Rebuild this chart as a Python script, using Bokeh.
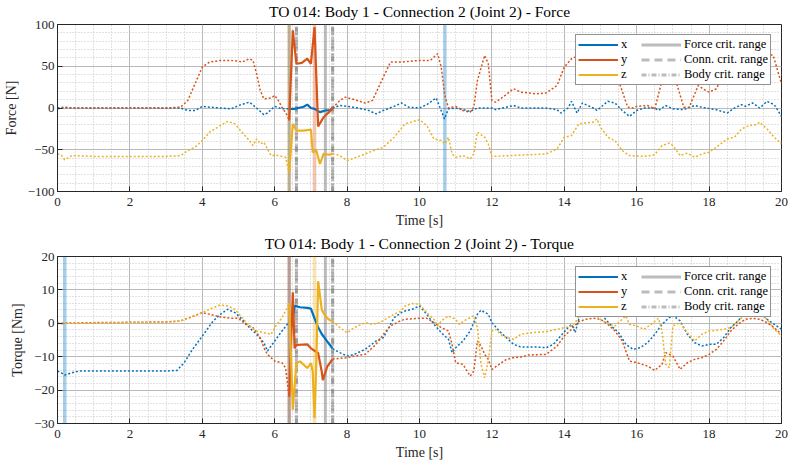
import numpy as np
from bokeh.plotting import figure
from bokeh.layouts import column
from bokeh.models import FixedTicker, Range1d, Legend, LegendItem
from bokeh.embed import file_html
from bokeh.resources import INLINE

NAN = float("nan")

# ---------------- data ----------------
X_TICKS = [0, 2, 4, 6, 8, 10, 12, 14, 16, 18, 20]
X_MINOR = [0.5 * i for i in range(41)]
F_TICKS = [-100, -50, 0, 50, 100]
F_MINOR = list(range(-100, 101, 10))
T_TICKS = [-30, -20, -10, 0, 10, 20]
T_MINOR = list(range(-30, 21, 2))

# Force, whole record (dotted), gap = critical window
FX_DOT = [(0, 0), (0.2, 1), (0.4, 0), (1, 0), (2, 0), (3, 0), (3.4, 0), (3.6, -3), (3.8, -3), (4.0, 2), (4.2, 1),
          (4.5, 0), (4.8, -1), (5.0, 3), (5.3, 7), (5.5, 0), (5.7, -8), (5.8, -6), (6.0, 2), (6.2, -1), (6.4, -1),
          (NAN, NAN), (7.6, 0), (7.8, 3), (8.0, 2), (8.3, 0), (8.6, -3), (8.8, -7), (9.0, -3), (9.3, 2), (9.5, 6),
          (9.7, 1), (10.0, 0), (10.2, 4), (10.46, 12), (10.69, -13), (10.8, -1), (11.0, 0), (11.4, -4), (11.6, 0),
          (12.0, 0), (12.1, -2), (12.3, 0), (12.6, 3), (12.8, 0), (13.5, 0), (13.8, -2), (13.9, -6), (14.1, 0),
          (14.2, 8), (14.35, -6), (14.5, 6), (14.8, 0), (14.9, -3), (15.2, 8), (15.4, 6), (15.6, -3), (15.8, -10),
          (16.0, -3), (16.2, 0), (16.5, 0), (16.6, -3), (16.8, 3), (17.0, -1), (17.3, -2), (17.6, 3), (17.9, 0),
          (18.2, -2), (18.5, -6), (18.7, 0), (18.9, 4), (19.0, 2), (19.2, 6), (19.4, 0), (19.6, 8), (19.8, 4),
          (20.0, -10)]
FY_DOT = [(0, -1), (0.2, 0), (1, 0), (2, 0), (3, 0), (3.4, 1), (3.6, 9), (3.8, 29), (4.0, 49), (4.2, 55), (4.5, 57),
          (4.8, 57), (5.0, 56), (5.1, 55), (5.3, 59), (5.4, 57), (5.5, 41), (5.6, 21), (5.7, 11), (5.9, 12),
          (6.0, 15), (6.1, 9), (6.2, 1), (6.35, -9), (6.4, -15), (NAN, NAN), (7.6, 0), (7.8, 9), (7.95, 13),
          (8.2, 10), (8.5, 6), (8.7, 9), (9.0, 37), (9.2, 55), (9.5, 55), (10.0, 57), (10.3, 57), (10.5, 65),
          (10.6, 49), (10.7, 15), (10.8, 0), (11.0, 2), (11.2, -3), (11.4, -5), (11.5, 1), (11.6, 33), (11.8, 63),
          (11.9, 53), (12.0, 9), (12.1, 7), (12.3, 13), (12.6, 23), (12.8, 19), (13.2, 17), (13.5, 18), (13.8, 27),
          (14.0, 49), (14.2, 59), (14.5, 65), (14.8, 68), (15.1, 64), (15.4, 55), (15.5, 33), (15.75, 1), (15.9, 0),
          (16.0, 2), (16.3, 3), (16.5, -1), (16.7, 33), (16.85, 52), (17.1, 30), (17.3, 1), (17.45, 1), (17.7, 27),
          (17.9, 21), (18.0, 19), (18.2, 23), (18.5, 50), (18.8, 62), (19.1, 58), (19.4, 60), (19.6, 65),
          (19.77, 63), (20.0, 29)]
FZ_DOT = [(0, -55), (0.1, -56), (0.2, -62), (0.4, -57), (1, -58), (2, -58), (3, -58), (3.4, -57), (3.6, -51),
          (3.8, -47), (4.0, -39), (4.2, -29), (4.5, -21), (4.7, -16), (4.9, -19), (5.1, -29), (5.3, -39), (5.4, -45),
          (5.5, -37), (5.6, -43), (5.7, -41), (5.9, -57), (6.1, -57), (6.3, -59), (6.4, -77), (NAN, NAN),
          (7.6, -55), (7.8, -57), (8.0, -63), (8.2, -60), (8.5, -55), (8.8, -50), (9.0, -47), (9.3, -35),
          (9.6, -19), (10.0, -14), (10.2, -21), (10.4, -37), (10.6, -39), (10.7, -43), (10.8, -35), (10.9, -55),
          (11.0, -59), (11.2, -57), (11.4, -61), (11.5, -55), (11.6, -29), (11.8, -35), (11.9, -43), (12.0, -58),
          (12.5, -57), (13.0, -56), (13.5, -55), (13.8, -49), (14.0, -35), (14.2, -33), (14.4, -19), (14.6, -18),
          (14.8, -17), (14.9, -13), (15.0, -23), (15.2, -35), (15.4, -39), (15.6, -51), (15.8, -57), (16.2, -58),
          (16.5, -56), (16.7, -45), (16.9, -42), (17.0, -45), (17.2, -57), (17.4, -54), (17.6, -59), (17.8, -55),
          (18.0, -53), (18.2, -47), (18.5, -37), (18.7, -35), (18.9, -25), (19.1, -21), (19.3, -20), (19.4, -17),
          (19.6, -25), (19.8, -35), (20.0, -43)]
# Force, critical window (solid)
FX_SOL = [(6.4, -1), (6.55, -1), (6.65, 0), (6.8, 1.5), (6.9, 4), (7.0, 0), (7.1, -1), (7.25, -5), (7.4, -3),
          (7.55, -2.5), (7.6, 0)]
FY_SOL = [(6.4, -15), (6.5, 93), (6.6, 53), (6.75, 54), (6.9, 59), (7.0, 53), (7.1, 97), (7.2, -22), (7.35, -11),
          (7.5, -5), (7.6, 0)]
FZ_SOL = [(6.4, -77), (6.5, -19), (6.6, -27), (6.8, -27), (7.0, -26), (7.05, -53), (7.15, -51), (7.25, -67),
          (7.35, -55), (7.5, -56), (7.6, -55)]

# Torque, whole record (dotted)
TX_DOT = [(0, -14.3), (0.1, -14.8), (0.2, -15.5), (0.4, -14.8), (0.6, -14.3), (1, -14.3), (2, -14.3), (3, -14.3),
          (3.3, -14.1), (3.5, -11.8), (3.7, -8.3), (3.9, -5.3), (4.1, -2.3), (4.3, 0.7), (4.5, 2.7), (4.7, 4.2),
          (4.9, 3.2), (5.1, 1.2), (5.3, -1.3), (5.5, -3.3), (5.7, -5.8), (5.8, -8.3), (6.0, -5.3), (6.2, -2.3),
          (6.35, -0.3), (6.4, 0.2), (NAN, NAN), (7.6, -7.6), (7.8, -8.8), (8.0, -9.8), (8.2, -9.3), (8.5, -7.8),
          (8.8, -5.3), (9.0, -4.3), (9.1, -2.3), (9.3, 1.7), (9.5, 3.2), (9.6, 3.7), (9.8, 4.2), (10.0, 5.2),
          (10.2, 2.7), (10.4, -0.3), (10.6, -2.8), (10.8, -4.8), (10.9, -8.8), (11.0, -7.3), (11.2, -5.3),
          (11.4, -2.3), (11.6, 2.7), (11.7, 3.9), (11.9, 2.7), (12.0, 0.2), (12.2, -2.3), (12.4, -4.3), (12.6, -6.3),
          (12.8, -7.1), (13.2, -7.1), (13.5, -7.3), (13.7, -6.3), (13.9, -3.8), (14.1, -1.3), (14.2, -0.3),
          (14.3, -2.8), (14.4, 1.2), (14.5, 3.2), (14.7, 4.2), (14.9, 4.2), (15.1, 1.7), (15.3, -0.8), (15.5, -2.8),
          (15.7, -6.3), (15.9, -7.8), (16.1, -7.3), (16.3, -5.8), (16.5, -3.3), (16.7, -0.3), (16.9, 1.7),
          (17.0, 2.4), (17.2, 0.7), (17.4, -3.3), (17.6, -5.8), (17.8, -6.8), (18.0, -6.3), (18.2, -6.3),
          (18.4, -4.3), (18.6, -1.3), (18.8, 0.7), (19.0, 3.2), (19.2, 2.7), (19.4, 3.7), (19.6, 1.2), (19.8, -0.3),
          (20.0, -1.8)]
TY_DOT = [(0, 0), (1, 0.2), (2, 0.3), (3, 0.4), (3.4, 0.7), (3.7, 1.9), (4.0, 3.2), (4.2, 2.7), (4.5, 1.9),
          (4.8, 1.5), (5.0, 1.5), (5.2, -0.3), (5.4, -1.3), (5.6, -4.3), (5.7, -7.3), (5.8, -9.3), (6.0, -11.3),
          (6.2, -11.8), (6.3, -13.3), (6.4, -22), (NAN, NAN), (7.6, -10.7), (7.8, -10.5), (8.0, -10.3),
          (8.2, -9.8), (8.5, -9.3), (8.8, -6.3), (9.0, -3.3), (9.2, -0.8), (9.5, 0.9), (9.6, 1.2), (10.0, 1.5),
          (10.2, 1.5), (10.4, 0.2), (10.6, -1.3), (10.8, -2.3), (10.9, -6.3), (11.0, -11.8), (11.2, -12.3),
          (11.4, -15.8), (11.5, -14.3), (11.6, -5.3), (11.7, -6.8), (11.8, -9.3), (11.9, -10.8), (12.0, -13.8),
          (12.2, -12.3), (12.4, -10.8), (12.6, -10.3), (12.8, -10.1), (13.0, -9.5), (13.5, -9.3), (13.8, -6.8),
          (14.0, -3.8), (14.2, -1.8), (14.4, 0.5), (14.6, 1.2), (14.8, 1.5), (15.0, 1.2), (15.2, -0.3),
          (15.4, -2.3), (15.6, -5.3), (15.8, -11.3), (16.0, -11.8), (16.3, -12.8), (16.5, -14.1), (16.7, -12.3),
          (16.8, -8.8), (17.0, -9.8), (17.2, -13.8), (17.4, -11.8), (17.6, -10.8), (17.8, -10.3), (18.0, -9.3),
          (18.2, -7.8), (18.4, -5.3), (18.6, -2.3), (18.8, -0.3), (19.0, 1.2), (19.2, 1.5), (19.4, 1.2),
          (19.6, 0.2), (19.8, -1.3), (20.0, -3.3)]
TZ_DOT = [(0, 0), (0.1, -0.3), (0.2, 0), (1, 0), (2, 0.2), (3, 0.3), (3.4, 0.7), (3.7, 1.9), (4.0, 3.2),
          (4.2, 4.2), (4.5, 5.5), (4.7, 5.2), (4.9, 4.2), (5.1, 1.7), (5.3, -0.8), (5.5, -2.3), (5.7, -2.8),
          (5.9, -3.3), (6.0, -1.3), (6.2, 1.7), (6.35, 4.7), (6.4, 6.1), (NAN, NAN), (7.6, 0.6), (7.8, -1.3),
          (8.0, -2.8), (8.2, -1.3), (8.5, 0.2), (8.7, -0.3), (8.9, 0.2), (9.1, 1.5), (9.3, 2.7), (9.5, 3.7),
          (9.6, 5.2), (9.8, 5.9), (10.0, 5.7), (10.2, 3.2), (10.4, 1.2), (10.5, -0.8), (10.6, 0.7), (10.8, 2.2),
          (11.0, 1.2), (11.1, -0.3), (11.3, 1.2), (11.5, 2.2), (11.6, -1.3), (11.7, -12.3), (11.8, -16.3),
          (11.9, -11.3), (12.0, -2.3), (12.1, -1.8), (12.3, -3.8), (12.6, -4.8), (12.8, -3.3), (13.1, -2.8),
          (13.5, -2.5), (13.8, -1.8), (14.0, -1.3), (14.2, -0.8), (14.3, 0.2), (14.4, 1.9), (14.6, 3.7),
          (14.8, 3.2), (15.0, 1.2), (15.2, -0.1), (15.4, -0.8), (15.6, 1.2), (15.7, 2.2), (15.8, -0.3),
          (16.0, -0.8), (16.2, -1.8), (16.4, -0.3), (16.6, 1.5), (16.7, -2.3), (16.8, -12.3), (16.9, -13.3),
          (17.0, -0.8), (17.2, 0.2), (17.4, -2.8), (17.6, -5.3), (17.8, -3.3), (18.0, -2.3), (18.2, -2.1),
          (18.4, -1.8), (18.6, -1.3), (18.8, 0.7), (19.0, 2.7), (19.2, 3.2), (19.4, 2.7), (19.6, 1.2),
          (19.8, -1.8), (20.0, -3.8)]
# Torque, critical window (solid)
TX_SOL = [(6.4, 0.2), (6.5, 1.0), (6.55, 5.2), (6.7, 4.8), (6.9, 4.6), (7.0, 4.4), (7.1, 1.5), (7.2, -1.2),
          (7.3, -3.2), (7.45, -5.4), (7.6, -7.6)]
TY_SOL = [(6.4, -22), (6.5, 9.3), (6.55, -7.5), (6.6, -6.5), (6.9, -6.3), (7.0, -7.5), (7.2, -8.9), (7.3, -14.5),
          (7.33, -17), (7.45, -13), (7.55, -11.5), (7.6, -10.7)]
TZ_SOL = [(6.4, 6.1), (6.5, -25.9), (6.6, -11.9), (6.7, -11.4), (6.9, -13.4), (7.0, -11.9), (7.05, -14.4),
          (7.1, -28.4), (7.15, -11.9), (7.2, 12.6), (7.3, 4.1), (7.4, 2.1), (7.5, 1.1), (7.6, 0.6)]

# critical ranges (time of start / end) [s]
FORCE_CRIT = [6.4, 7.4]
CONN_CRIT = [6.6, 7.6]
BODY_CRIT = [6.6, 7.6]
# per-component critical instants [s]
FORCE_COMP_CRIT = {"x": 10.7, "y": 7.1, "z": 6.4}
TORQUE_COMP_CRIT = {"x": 0.2, "y": 6.4, "z": 7.1}

COLORS = {"x": "#0072BD", "y": "#D95319", "z": "#EDB120"}
FONT = "Liberation Serif"
DARK = "#262626"


def split(pairs):
    a = np.array(pairs, dtype=float)
    return a[:, 0], a[:, 1]


def panel(title, ylabel, yr, yticks, yminor, dots, sols, comp_crit, height, top):
    p = figure(width=793, height=height, x_range=Range1d(0, 20), y_range=Range1d(*yr),
               output_backend="svg", toolbar_location=None,
               min_border_left=52, min_border_right=12, min_border_top=top, min_border_bottom=40)
    p.background_fill_color = "white"
    p.border_fill_color = "white"
    p.outline_line_color = DARK
    p.outline_line_width = 1

    p.title.text = title
    p.title.align = "center"
    p.title.vertical_align = "top"
    p.title.text_font = FONT
    p.title.text_font_size = "15.5px"
    p.title.text_font_style = "normal"
    p.title.text_color = "black"
    p.title.standoff = 5

    xt = FixedTicker(ticks=X_TICKS, minor_ticks=X_MINOR)
    yt = FixedTicker(ticks=yticks, minor_ticks=yminor)
    p.xaxis.ticker = xt
    p.yaxis.ticker = yt
    for ax in (p.xaxis[0], p.yaxis[0]):
        ax.major_label_text_font = FONT
        ax.major_label_text_font_size = "13px"
        ax.major_label_text_color = DARK
        ax.axis_label_text_font = FONT
        ax.axis_label_text_font_size = "14px"
        ax.axis_label_text_font_style = "normal"
        ax.axis_label_text_color = DARK
        ax.major_tick_in = 5
        ax.major_tick_out = 0
        ax.minor_tick_in = 0
        ax.minor_tick_out = 0
        ax.axis_line_color = DARK
        ax.major_tick_line_color = DARK
    p.xaxis.axis_label = "Time [s]"
    p.yaxis.axis_label = ylabel
    p.xaxis.major_label_standoff = 6
    p.xaxis.axis_label_standoff = 4
    p.yaxis.major_label_standoff = 3
    p.yaxis.axis_label_standoff = 6

    for g in (p.xgrid[0], p.ygrid[0]):
        g.grid_line_color = "#bababa"
        g.grid_line_width = 1
        g.minor_grid_line_color = "#c4c4c4"
        g.minor_grid_line_dash = "1 2"
        g.minor_grid_line_width = 1

    y0, y1 = yr
    # per-component critical bands
    for c in ("x", "y", "z"):
        t = comp_crit[c]
        p.segment(x0=[t], x1=[t], y0=[y0], y1=[y1], line_color=COLORS[c], line_alpha=0.35, line_width=3.5)
    # critical ranges
    r_force = p.segment(x0=FORCE_CRIT, x1=FORCE_CRIT, y0=[y0] * len(FORCE_CRIT), y1=[y1] * len(FORCE_CRIT),
                        line_color="#7a7a7a", line_alpha=0.5, line_width=3)
    r_conn = p.segment(x0=CONN_CRIT, x1=CONN_CRIT, y0=[y0] * len(CONN_CRIT), y1=[y1] * len(CONN_CRIT),
                       line_color="#7a7a7a", line_alpha=0.5, line_width=3, line_dash="8 5")
    r_body = p.segment(x0=BODY_CRIT, x1=BODY_CRIT, y0=[y0] * len(BODY_CRIT), y1=[y1] * len(BODY_CRIT),
                       line_color="#7a7a7a", line_alpha=0.5, line_width=3, line_dash="5 2 1 2")

    sol_r = {}
    for c in ("x", "y", "z"):
        tx, vx = split(dots[c])
        p.line(tx, vx, line_color=COLORS[c], line_width=1.5, line_dash="2 2")
    for c in ("x", "y", "z"):
        ts, vs = split(sols[c])
        sol_r[c] = p.line(ts, vs, line_color=COLORS[c], line_width=2.2)

    items = [LegendItem(label="x", renderers=[sol_r["x"]]),
             LegendItem(label="y", renderers=[sol_r["y"]]),
             LegendItem(label="z", renderers=[sol_r["z"]]),
             LegendItem(label="Force crit. range", renderers=[r_force]),
             LegendItem(label="Conn. crit. range", renderers=[r_conn]),
             LegendItem(label="Body crit. range", renderers=[r_body])]
    leg = Legend(items=items, location="top_right", ncols=2, margin=10, padding=2, spacing=0,
                 glyph_width=40, glyph_height=13, label_height=13, label_standoff=3,
                 label_text_font=FONT, label_text_font_size="12.5px", label_text_color="black",
                 label_text_line_height=1.0,
                 border_line_color=DARK, border_line_width=1, background_fill_alpha=1)
    p.add_layout(leg, "center")
    return p


p1 = panel("TO 014: Body 1 - Connection 2 (Joint 2) - Force", "Force [N]", (-100, 100), F_TICKS, F_MINOR,
           {"x": FX_DOT, "y": FY_DOT, "z": FZ_DOT}, {"x": FX_SOL, "y": FY_SOL, "z": FZ_SOL},
           FORCE_COMP_CRIT, 231, 24)
p2 = panel("TO 014: Body 1 - Connection 2 (Joint 2) - Torque", "Torque [Nm]", (-30, 20), T_TICKS, T_MINOR,
           {"x": TX_DOT, "y": TY_DOT, "z": TZ_DOT}, {"x": TX_SOL, "y": TY_SOL, "z": TZ_SOL},
           TORQUE_COMP_CRIT, 232, 25)

layout = column(p1, p2, spacing=0)
open("out.html", "w").write(file_html(layout, INLINE))
